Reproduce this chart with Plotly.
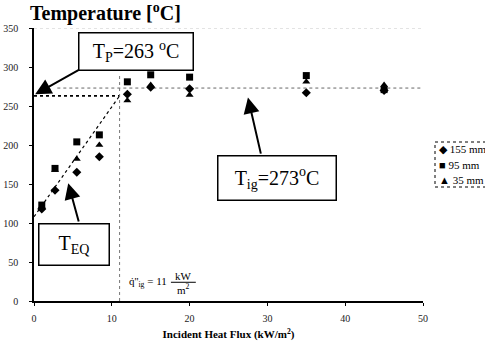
import plotly.graph_objects as go

# ---- data ----
heat_flux = [1, 2.7, 5.5, 8.4, 12, 15, 20, 35, 45]
temp_155mm = [118, 142, 165, 185, 265, 274, 272, 267, 270]
temp_95mm = [123, 170, 204, 213, 281, 290, 287, 289, 271]
temp_35mm = [121, 168, 182, 200, 257, 277, 264, 281, 277]
series_names = ["155 mm", "95 mm", "35 mm"]
series_glyphs = ["◆", "■", "▲"]
x_ticks = [0, 10, 20, 30, 40, 50]
y_ticks = [0, 50, 100, 150, 200, 250, 300, 350]

T_P = 263      # deg C
T_IG = 273     # deg C
T_EQ_0 = 108   # equilibrium-line intercept at zero flux
Q_IG = 11      # kW/m2 critical flux

SERIF = "Liberation Serif"

W, H = 485, 351
ML, MR, MT, MB = 34, 62, 28, 50
PW, PH = W - ML - MR, H - MT - MB


def px(xp):
    return (xp - ML) / PW


def py(yp):
    return (H - MB - yp) / PH


fig = go.Figure()

# reference lines
fig.add_trace(go.Scatter(x=[0, Q_IG], y=[T_EQ_0, T_P], mode="lines",
                         line=dict(color="black", width=1.2, dash="dot"),
                         showlegend=False, hoverinfo="skip"))
fig.add_trace(go.Scatter(x=[0, Q_IG], y=[T_P, T_P], mode="lines",
                         line=dict(color="black", width=1.6, dash="dot"),
                         showlegend=False, hoverinfo="skip"))
fig.add_trace(go.Scatter(x=[3, 50], y=[T_IG, T_IG], mode="lines",
                         line=dict(color="#666", width=1, dash="dot"),
                         showlegend=False, hoverinfo="skip"))
fig.add_trace(go.Scatter(x=[Q_IG, Q_IG], y=[0, 290], mode="lines",
                         line=dict(color="#777", width=1, dash="dot"),
                         showlegend=False, hoverinfo="skip"))
fig.add_trace(go.Scatter(x=[0, 50], y=[350, 350], mode="lines",
                         line=dict(color="#c8c8c8", width=1, dash="dot"),
                         showlegend=False, hoverinfo="skip"))

# data series
for name, vals, sym in zip(series_names, [temp_155mm, temp_95mm, temp_35mm],
                           ["diamond", "square", "triangle-up"]):
    fig.add_trace(go.Scatter(x=heat_flux, y=vals, mode="markers", name=name,
                             showlegend=False,
                             marker=dict(symbol=sym, color="black", size=7,
                                         line=dict(width=0))))

box_font = dict(family=SERIF, size=20, color="black")

# boxed labels
fig.add_annotation(x=13.05, y=320.5, xref="x", yref="y", showarrow=False,
                   text="T<sub>P</sub>=263 <sup>o</sup>C", font=box_font,
                   width=111, height=34, bordercolor="black", borderwidth=1.5,
                   bgcolor="white", align="center", valign="middle")
fig.add_annotation(x=31.2, y=158, xref="x", yref="y", showarrow=False,
                   text="T<sub>ig</sub>=273<sup>o</sup>C", font=box_font,
                   width=115, height=41, bordercolor="black", borderwidth=1.5,
                   bgcolor="white", align="center", valign="middle")
fig.add_annotation(x=5.08, y=73, xref="x", yref="y", showarrow=False,
                   text="T<sub>EQ</sub>", font=box_font,
                   width=67, height=38, bordercolor="black", borderwidth=1.5,
                   bgcolor="white", align="center", valign="middle")

# arrows
arrow_kw = dict(showarrow=True, arrowhead=2, arrowsize=1.6, arrowwidth=2,
                arrowcolor="black", text="", xref="x", yref="y",
                axref="x", ayref="y")
fig.add_annotation(x=0.15, y=265, ax=5.9, ay=297, **arrow_kw)
fig.add_annotation(x=27.5, y=261, ax=29.2, ay=187, **arrow_kw)
fig.add_annotation(x=4.4, y=151, ax=5.8, ay=100, **arrow_kw)

# critical flux label
small = dict(family=SERIF, size=11, color="black")
fig.add_annotation(x=12.0, y=24, xref="x", yref="y", showarrow=False,
                   xanchor="left", text="q̇''<sub>ig</sub> = 11", font=small)
fig.add_annotation(x=19.2, y=32, xref="x", yref="y", showarrow=False,
                   text="kW", font=small)
fig.add_annotation(x=19.2, y=15, xref="x", yref="y", showarrow=False,
                   text="m<sup>2</sup>", font=small)
fig.add_shape(type="line", x0=17.6, x1=20.8, y0=24, y1=24, xref="x", yref="y",
              line=dict(color="black", width=1))

# legend (drawn by hand, compact as in the original)
fig.add_shape(type="rect", xref="paper", yref="paper",
              x0=px(435), x1=px(492), y0=py(187), y1=py(142),
              line=dict(color="black", width=1, dash="dot"),
              fillcolor="white")
for i, (g, name) in enumerate(zip(series_glyphs, series_names)):
    fig.add_annotation(xref="paper", yref="paper", x=px(437), y=py(149 + 15.5 * i),
                       xanchor="left", yanchor="middle", showarrow=False,
                       text=f"{g} {name}",
                       font=dict(family=SERIF, size=11, color="black"))

fig.update_layout(
    width=W, height=H,
    margin=dict(l=ML, r=MR, t=MT, b=MB, autoexpand=False),
    paper_bgcolor="white", plot_bgcolor="white",
    font=dict(family=SERIF, size=10, color="#222"),
    showlegend=False,
    title=dict(text="<b>Temperature [<sup>o</sup>C]</b>",
               font=dict(family=SERIF, size=20, color="black"),
               x=30 / W, xanchor="left", xref="container",
               y=1 - 13 / H, yanchor="middle", yref="container"),
    xaxis=dict(range=[0, 50], tickvals=x_ticks, showgrid=False, zeroline=False,
               showline=True, linecolor="black", linewidth=1.5,
               ticks="outside", ticklen=3, tickcolor="black",
               ticklabelstandoff=4, automargin=False,
               tickfont=dict(family=SERIF, size=10, color="#222"),
               title=dict(text="<b>Incident Heat Flux (kW/m<sup>2</sup>)</b>",
                          font=dict(family=SERIF, size=11, color="black"),
                          standoff=8)),
    yaxis=dict(range=[0, 350], tickvals=y_ticks, showgrid=False, zeroline=False,
               showline=True, linecolor="black", linewidth=1.5,
               ticks="outside", ticklen=3, tickcolor="black",
               ticklabelstandoff=9, automargin=False,
               tickfont=dict(family=SERIF, size=10, color="#222")),
)

fig.write_html("out.html", config={"displayModeBar": False},
               post_script="document.body.style.margin='0px';"
                           "document.body.style.overflow='hidden';")
